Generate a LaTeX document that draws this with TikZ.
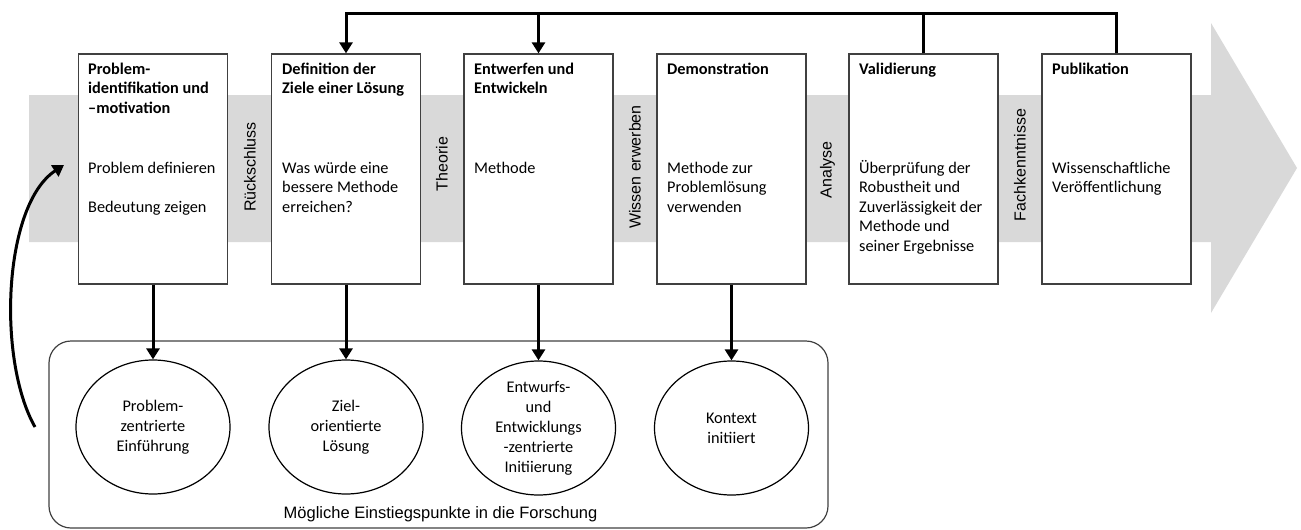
\documentclass[tikz,border=0pt]{standalone}
\usepackage{fontspec}
\setmainfont{Carlito}
\newfontfamily\arialfont{Liberation Sans}
\usetikzlibrary{arrows.meta,shapes.geometric}

\definecolor{bandgray}{HTML}{D9D9D9}
\definecolor{edgegray}{HTML}{404040}

\tikzset{
  stagebox/.style={draw=edgegray, line width=1.3pt, fill=white,
    minimum width=149pt, minimum height=230pt, inner sep=0pt},
  stagetext/.style={anchor=base west, inner sep=0pt,
    font=\fontsize{16.3}{19.5}\selectfont},
  stagetitle/.style={stagetext, font=\fontsize{16.3}{19.5}\selectfont\bfseries},
  entrypoint/.style={ellipse, draw=black, line width=1.2pt, fill=white,
    minimum width=154pt, minimum height=134pt, inner sep=0pt, align=center,
    font=\fontsize{16.3}{20}\selectfont},
  gaplabel/.style={rotate=90, inner sep=0pt, font=\arialfont\fontsize{16}{19}\selectfont},
  wire/.style={line width=3pt, line join=miter},
  conn/.style={wire, -{Triangle[width=13pt,length=11pt]}},
}

\begin{document}
\begin{tikzpicture}[x=1pt,y=-1pt]
\useasboundingbox (0,0) rectangle (1301,530);

% broad process arrow in the background
\fill[bandgray] (29,95) -- (1211,95) -- (1211,23) -- (1297,168)
  -- (1211,313) -- (1211,242) -- (29,242) -- cycle;

% process stages
\node[stagebox] (b1) at (153,169) {};
\node[stagebox] (b2) at (346,169) {};
\node[stagebox] (b3) at (538.5,169) {};
\node[stagebox] (b4) at (731.5,169) {};
\node[stagebox] (b5) at (923.5,169) {};
\node[stagebox] (b6) at (1116.5,169) {};

% stage headings
\node[stagetitle] (t1) at (88,74) {\parbox[t]{136pt}{\raggedright Problem-\\identifikation und\\–motivation}};
\node[stagetitle] (t2) at (282,74) {\parbox[t]{136pt}{\raggedright Definition der\\Ziele einer Lösung}};
\node[stagetitle] (t3) at (474,74) {\parbox[t]{136pt}{\raggedright Entwerfen und\\Entwickeln}};
\node[stagetitle] (t4) at (667,74) {\parbox[t]{136pt}{\raggedright Demonstration}};
\node[stagetitle] (t5) at (859,74) {\parbox[t]{136pt}{\raggedright Validierung}};
\node[stagetitle] (t6) at (1052,74) {\parbox[t]{136pt}{\raggedright Publikation}};

% stage contents
\node[stagetext] (c1) at (88,173) {\parbox[t]{136pt}{\raggedright Problem definieren\\[19.5pt]Bedeutung zeigen}};
\node[stagetext] (c2) at (282,173) {\parbox[t]{136pt}{\raggedright Was würde eine\\bessere Methode\\erreichen?}};
\node[stagetext] (c3) at (474,173) {\parbox[t]{136pt}{\raggedright Methode}};
\node[stagetext] (c4) at (667,173) {\parbox[t]{136pt}{\raggedright Methode zur\\Problemlösung\\verwenden}};
\node[stagetext] (c5) at (859,173) {\parbox[t]{136pt}{\raggedright Überprüfung der\\Robustheit und\\Zuverlässigkeit der\\Methode und\\seiner Ergebnisse}};
\node[stagetext] (c6) at (1052,173) {\parbox[t]{136pt}{\raggedright Wissenschaftliche\\Veröffentlichung}};

% transitions between stages
\node[gaplabel] (g1) at (250,167) {Rückschluss};
\node[gaplabel] (g2) at (442,164) {Theorie};
\node[gaplabel] (g3) at (635,167) {Wissen erwerben};
\node[gaplabel] (g4) at (827.5,170) {Analyse};
\node[gaplabel] (g5) at (1020,165) {Fachkenntnisse};

% feedback from validation and publication
\coordinate (top2) at (346,13);
\coordinate (top3) at (538.5,13);
\draw[conn] (b6.north) |- (top2) -- (b2.north);
\draw[conn] (top3) -- (b3.north);
\draw[wire] (b5.north) -- (b5.north |- top2);

% entry points
\node[draw=edgegray, line width=1.2pt, rounded corners=22pt,
  minimum width=779pt, minimum height=187pt, inner sep=0pt] (grp) at (438.5,434.5) {};
\node[entrypoint] (e1) at (153,427) {Problem-\\zentrierte\\Einführung};
\node[entrypoint] (e2) at (346,427) {Ziel-\\orientierte\\Lösung};
\node[entrypoint] (e3) at (538.5,428) {Entwurfs-\\und\\Entwicklungs\\-zentrierte\\Initiierung};
\node[entrypoint] (e4) at (731.5,428) {Kontext\\initiiert};
\node[anchor=base, inner sep=0pt, font=\arialfont\fontsize{16.5}{19}\selectfont] (lbl)
  at (440.5,518) {Mögliche Einstiegspunkte in die Forschung};

\draw[conn] (b1.south) -- (e1.north);
\draw[conn] (b2.south) -- (e2.north);
\draw[conn] (b3.south) -- (e3.north);
\draw[conn] (b4.south) -- (e4.north);

% return into the problem stage
\coordinate (cstart) at (35,427);
\coordinate (cend) at (64,165);
\draw[conn] (cstart) .. controls (-3,360) and (3,205) .. (cend);
\end{tikzpicture}
\end{document}
